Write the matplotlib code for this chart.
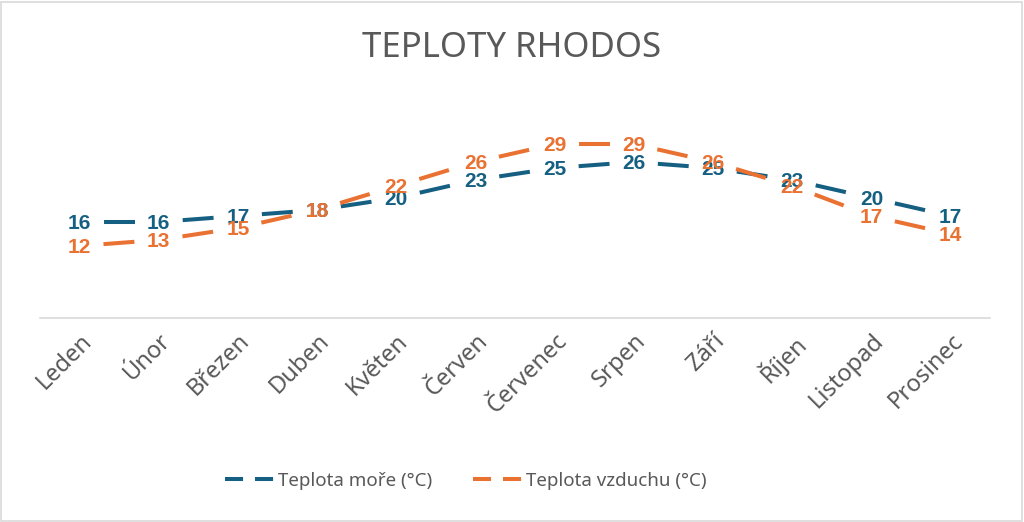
import matplotlib
matplotlib.use("Agg")
import matplotlib.pyplot as plt
from matplotlib.lines import Line2D
from matplotlib.patches import Rectangle

months = ["Leden", "Únor", "Březen", "Duben", "Květen", "Červen",
          "Červenec", "Srpen", "Září", "Říjen", "Listopad", "Prosinec"]
sea_temp = [16, 16, 17, 18, 20, 23, 25, 26, 25, 23, 20, 17]
air_temp = [12, 13, 15, 18, 22, 26, 29, 29, 26, 22, 17, 14]

blue = "#156082"
orange = "#E97132"
grey = "#595959"

plt.rcParams['font.family'] = ['Noto Sans', 'DejaVu Sans']
plt.rcParams['lines.scale_dashes'] = False

fig = plt.figure(figsize=(10.24, 5.22), dpi=100)
ax = fig.add_axes([0.039, 0.391, 0.928, 0.402])

x = list(range(len(months)))
# each segment: gap, one dash, gap (like the Excel long-dash look)
seg_style = (65, (22.3, 60))
for vals, col in [(sea_temp, blue), (air_temp, orange)]:
    for i in range(len(vals) - 1):
        ax.plot([x[i], x[i + 1]], [vals[i], vals[i + 1]], color=col,
                lw=2.9, linestyle=seg_style, solid_capstyle='butt')

for vals, col in [(sea_temp, blue), (air_temp, orange)]:
    for i, v in enumerate(vals):
        ax.text(x[i], v - 0.3, str(v), color=col, fontsize=15, fontweight='bold',
                ha='center', va='center', family=['Liberation Sans', 'DejaVu Sans'])

ax.set_xlim(-0.5, 11.5)
ax.set_ylim(0, 35)
ax.set_yticks([])
ax.set_xticks(x)
ax.set_xticklabels(months, rotation=45, ha='right', rotation_mode='anchor',
                   fontsize=17, color=grey)
ax.tick_params(axis='x', length=0, pad=8)
for s in ['top', 'left', 'right']:
    ax.spines[s].set_visible(False)
ax.spines['bottom'].set_color('#d9d9d9')
ax.spines['bottom'].set_linewidth(1.2)

fig.text(0.5, 0.908, "TEPLOTY RHODOS", ha='center', va='center',
         fontsize=25, color=grey)

handles = [Line2D([0], [0], color=blue, lw=2.9, linestyle=(0, (13, 8.6))),
           Line2D([0], [0], color=orange, lw=2.9, linestyle=(0, (13, 8.6)))]
fig.legend(handles, ["Teplota moře (°C)", "Teplota vzduchu (°C)"],
           loc='center', bbox_to_anchor=(0.455, 0.079), ncol=2, frameon=False,
           fontsize=13.5, labelcolor=grey, handlelength=2.6, handletextpad=0.2,
           columnspacing=2.2)

fig.patches.append(Rectangle((0.001, 0.002), 0.997, 0.995, transform=fig.transFigure,
                             fill=False, edgecolor='#d9d9d9', lw=1.2))

fig.savefig("out.png", dpi=100)
